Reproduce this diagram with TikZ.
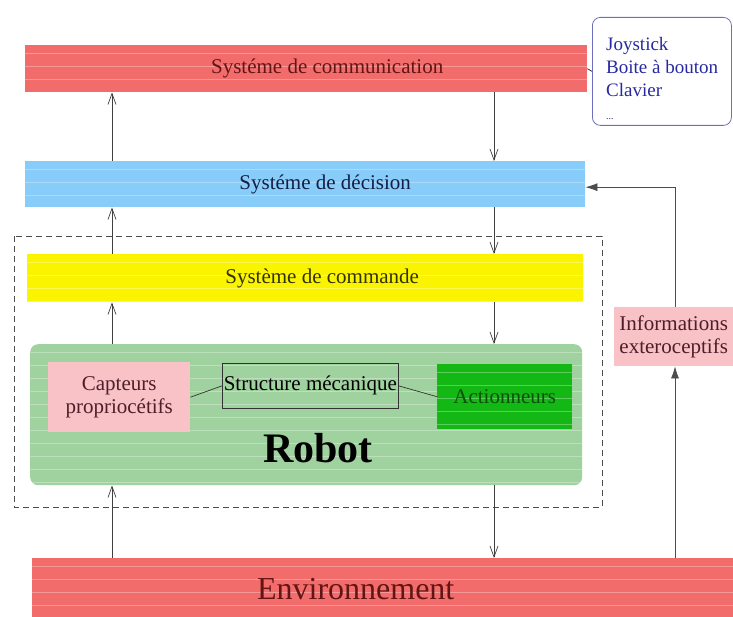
\documentclass[tikz,border=0pt]{standalone}
\usepackage{fontspec}
\setmainfont{Liberation Serif}
\usetikzlibrary{arrows.meta,calc,positioning}

\definecolor{commred}{RGB}{242,108,108}
\definecolor{decblue}{RGB}{136,204,250}
\definecolor{cmdyellow}{RGB}{250,244,0}
\definecolor{robotgreen}{RGB}{160,210,160}
\definecolor{capteurpink}{RGB}{248,194,198}
\definecolor{actgreen}{RGB}{20,184,20}
\definecolor{joyblue}{RGB}{40,40,160}
\definecolor{joyframe}{RGB}{110,110,190}
\definecolor{commtext}{RGB}{100,20,20}
\definecolor{dectext}{RGB}{20,30,70}
\definecolor{cmdtext}{RGB}{50,50,0}
\definecolor{captext}{RGB}{80,30,40}
\definecolor{acttext}{RGB}{10,80,10}

\begin{document}
\begin{tikzpicture}[x=1pt,y=-1pt,
  every node/.style={font=\fontsize{21}{23}\selectfont},
  stripes/.style={path picture={
      \foreach \k in {1,...,12}
        \draw[white,opacity=.3,line width=.7pt]
          ([yshift=-\k*13pt+5pt]path picture bounding box.north west) --
          ([yshift=-\k*13pt+5pt]path picture bounding box.north east);}},
  bar/.style={stripes,inner sep=0pt,anchor=north west},
  boite/.style={inner sep=0pt,anchor=north west,align=center},
  fleche/.style={draw=black!75,line width=.7pt,-{Straight Barb[length=11pt,width=8pt]}},
  retour/.style={draw=black!70,line width=.7pt,-{Latex[length=12pt,width=8pt]}}]

\useasboundingbox (0,0) rectangle (733,617);

% the bars
\node[bar,fill=commred,minimum width=562pt,minimum height=47pt] (comm) at (25,45) {};
\node[text=commtext] (commlbl) at ([xshift=21pt]comm.center) {Systéme de communication};

\node[bar,fill=decblue,minimum width=560pt,minimum height=46pt] (decision) at (25,161) {};
\node[text=dectext] (declbl) at ([xshift=20pt]decision.center) {Systéme de décision};

\node[bar,fill=cmdyellow,minimum width=556pt,minimum height=48pt] (commande) at (27,254) {};
\node[text=cmdtext] (cmdlbl) at ([xshift=17pt]commande.center) {Système de commande};

\node[bar,fill=commred,minimum width=701pt,minimum height=59pt] (env) at (32,558) {};
\node[text=commtext,font=\fontsize{32}{34}\selectfont] (envlbl) at ([xshift=-27pt,yshift=-1pt]env.center) {Environnement};

% input devices
\node[boite,draw=joyframe,line width=.8pt,rounded corners=8pt,minimum width=139pt,minimum height=108pt] (joy) at (592,17) {};
\node[anchor=north west,inner sep=0pt,align=left,text=joyblue,font=\fontsize{19}{23}\selectfont] (joylbl) at (606,37)
  {Joystick\\Boite à bouton\\Clavier\\{\fontsize{10}{23}\selectfont ...}};
\draw[black!80,line width=.8pt] (comm.east) -- (joy.west);

% the robot
\draw[black!70,line width=.7pt,dash pattern=on 6pt off 4pt] (14,236) rectangle (602,507);
\node[bar,fill=robotgreen,rounded corners=8pt,minimum width=552pt,minimum height=141pt] (robot) at (30,344) {};
\node[font=\fontsize{42}{44}\bfseries] (robotlbl) at (318,448) {Robot};

\node[boite,fill=capteurpink,text=captext,minimum width=142pt,minimum height=70pt] (capteurs) at (48,362) {Capteurs\\propriocétifs};
\node[boite,draw=black!80,line width=.7pt,minimum width=176pt,minimum height=45pt] (structure) at (222,363) {Structure mécanique};
\node[boite,stripes,fill=actgreen,text=acttext,minimum width=135pt,minimum height=65pt] (actionneurs) at (437,364) {Actionneurs};
\draw[black!80,line width=.7pt] (capteurs.east) -- (structure.west);
\draw[black!80,line width=.7pt] (structure.east) -- (actionneurs.west);

\node[boite,fill=capteurpink,text=captext,minimum width=119pt,minimum height=59pt] (info) at (614,307) {Informations\\exteroceptifs};

% up and down between the levels
\coordinate (colA) at (112,0);
\coordinate (colB) at (494,0);
\coordinate (colC) at (675,0);
\foreach \bas/\haut in {decision/comm,commande/decision,robot/commande,env/robot}
{
  \draw[fleche] (\bas.north -| colA) -- (\haut.south -| colA);
  \draw[fleche] (\haut.south -| colB) -- (\bas.north -| colB);
}

% feedback from the environment
\draw[retour] (env.north -| colC) -- (info.south -| colC);
\draw[retour] (info.north -| colC) |- ([yshift=-3pt]decision.east);

\end{tikzpicture}
\end{document}
